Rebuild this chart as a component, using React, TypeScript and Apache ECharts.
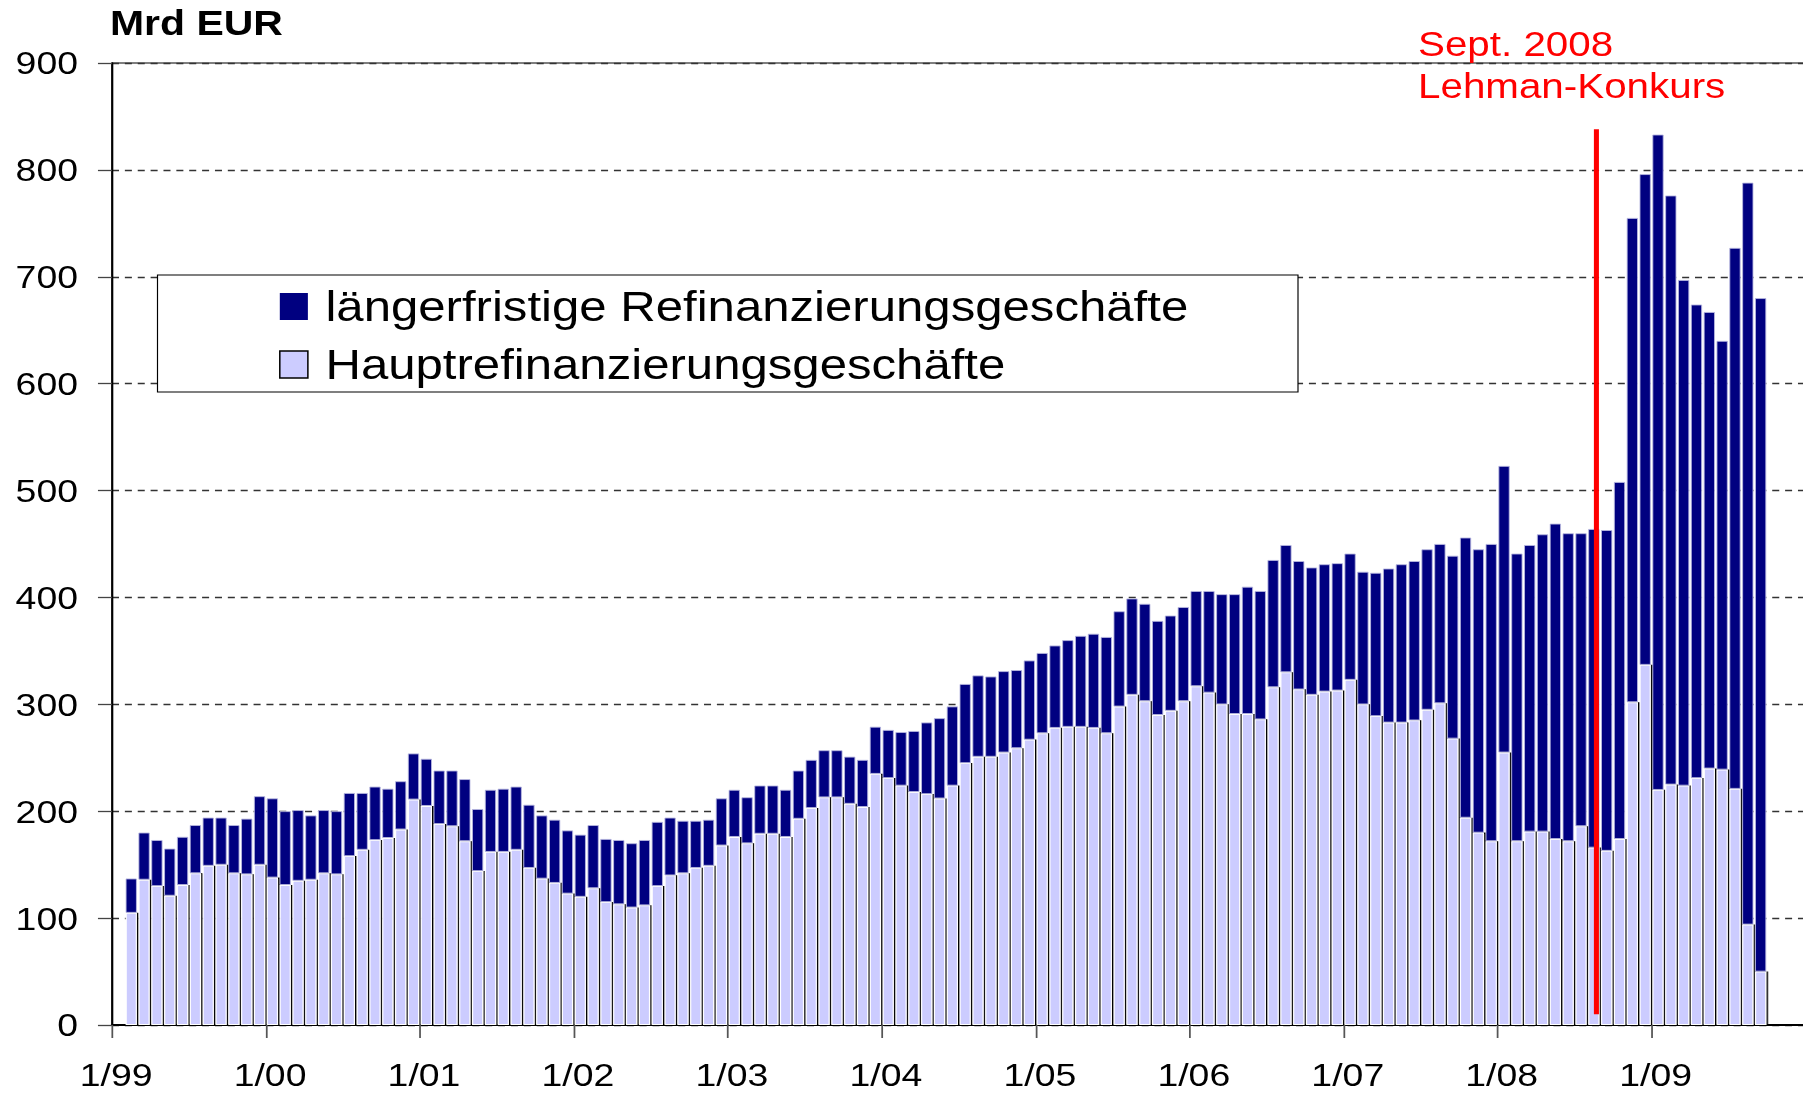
import React, { useEffect, useRef } from "react";
import * as echarts from "echarts";

// ---- data (Mrd EUR) ----
const YEAR_LABELS = ["1/99", "1/00", "1/01", "1/02", "1/03", "1/04", "1/05", "1/06", "1/07", "1/08", "1/09"];
const FIRST_YEAR = 1999;
const YEARS_ON_AXIS = 11;
const FIRST_SLOT = 1; // first bar sits in the second monthly slot

// total height of each bar (Hauptrefinanzierung + längerfristige)
const TOTAL = [
  137, 180, 173, 165, 176, 187, 194, 194, 187, 193, 214, 212,
  200, 201, 196, 201, 200, 217, 217, 223, 221, 228, 254, 249,
  238, 238, 230, 202, 220, 221, 223, 206, 196, 192, 182, 178,
  187, 174, 173, 170, 173, 190, 194, 191, 191, 192, 212, 220,
  213, 224, 224, 220, 238, 248, 257, 257, 251, 248, 279, 276,
  274, 275, 283, 287, 298, 319, 327, 326, 331, 332, 341, 348,
  355, 360, 364, 366, 363, 387, 399, 394, 378, 383, 391, 406,
  406, 403, 403, 410, 406, 435, 449, 434, 428, 431, 432, 441,
  424, 423, 427, 431, 434, 445, 450, 439, 456, 445, 450, 523,
  441, 449, 459, 469, 460, 460, 464, 463, 508, 755, 796, 833,
  776, 697, 674, 667, 640, 727, 788, 680,
];
// Hauptrefinanzierungsgeschäfte (light part)
const MRO = [
  105, 136, 130, 121, 131, 142, 149, 150, 142, 141, 150, 138,
  131, 135, 136, 142, 141, 158, 164, 173, 175, 183, 211, 205,
  188, 186, 172, 144, 162, 162, 164, 147, 137, 133, 123, 120,
  128, 115, 113, 110, 112, 130, 140, 142, 147, 149, 168, 176,
  170, 179, 179, 176, 193, 203, 213, 213, 207, 204, 235, 231,
  224, 218, 216, 212, 224, 245, 251, 251, 255, 259, 267, 273,
  278, 279, 279, 278, 273, 298, 309, 303, 290, 294, 303, 317,
  311, 300, 291, 291, 286, 316, 330, 314, 309, 312, 313, 323,
  300, 289, 283, 283, 285, 295, 301, 268, 194, 180, 172, 255,
  172, 181, 181, 174, 172, 186, 166, 163, 174, 302, 337, 220,
  225, 224, 231, 240, 239, 221, 94, 50,
];
// Lehman marker (position in monthly slots, vertical extent in Mrd EUR)
const LEHMAN_X = 115.7;
const LEHMAN_Y = [10, 838];

const NAME_LTRO = "längerfristige Refinanzierungsgeschäfte";
const NAME_MRO = "Hauptrefinanzierungsgeschäfte";

// ---- layout ----
const STRETCH = 1.17; // reference is horizontally stretched
const W = Math.round(1803 / STRETCH);
const H = 1093;
const FONT = '"Liberation Sans", Arial, Helvetica, sans-serif';

const SLOTS = YEARS_ON_AXIS * 12;
const MONTHS: string[] = [];
for (let i = 0; i < SLOTS; i++) {
  const y = FIRST_YEAR + Math.floor(i / 12);
  MONTHS.push(`${(i % 12) + 1}/${String(y % 100).padStart(2, "0")}`);
}
function place(values: number[]): (number | null)[] {
  const out: (number | null)[] = new Array(SLOTS).fill(null);
  values.forEach((v, i) => (out[FIRST_SLOT + i] = v));
  return out;
}
const LTRO = TOTAL.map((t, i) => t - MRO[i]);

export default function App() {
  const ref = useRef<HTMLDivElement>(null);
  useEffect(() => {
    document.body.style.margin = "0";
    document.body.style.overflow = "hidden";
    const chart = echarts.init(ref.current!, null, { renderer: "svg" });
    chart.setOption({
      animation: false,
      backgroundColor: "#ffffff",
      grid: {
        left: 112 / STRETCH,
        right: -2.2,
        top: 63,
        bottom: 68,
        outerBoundsMode: "none",
        containLabel: false,
        show: true,
        borderColor: "#000",
        borderWidth: 1.2,
        backgroundColor: "transparent",
      },
      xAxis: [
        {
          type: "category",
          data: MONTHS,
          boundaryGap: true,
          axisLine: { show: false },
          axisTick: { show: false },
          axisLabel: { show: false },
          splitLine: { show: false },
        },
        {
          type: "value",
          min: 0,
          max: SLOTS,
          interval: 12,
          position: "bottom",
          axisLine: { show: true, onZero: false, lineStyle: { color: "#000", width: 2 } },
          axisTick: { show: true, length: 13, lineStyle: { color: "#555", width: 1.5 } },
          axisLabel: {
            margin: 34,
            fontSize: 32,
            fontFamily: FONT,
            color: "#000",
            padding: [0, 0, 0, 7],
            showMaxLabel: false,
            formatter: (v: number) => YEAR_LABELS[Math.round(v / 12)] ?? "",
          },
          splitLine: { show: false },
        },
      ],
      yAxis: {
        type: "value",
        min: 0,
        max: 900,
        interval: 100,
        axisLine: { show: true, lineStyle: { color: "#000", width: 1.7 } },
        axisTick: { show: true, length: 12, lineStyle: { color: "#444", width: 1.3 } },
        axisLabel: { margin: 29, fontSize: 32, fontFamily: FONT, color: "#000" },
        splitLine: { show: true, lineStyle: { type: [6, 5], color: "#333", width: 1.3 } },
      },
      legend: {
        orient: "vertical",
        left: 238.5,
        top: 285.5,
        padding: 0,
        itemWidth: 24,
        itemHeight: 27,
        itemGap: 16,
        z: 6,
        selectedMode: false,
        textStyle: { fontSize: 42, fontFamily: FONT, color: "#000", padding: [0, 0, 0, 10] },
        data: [
          {
            name: NAME_LTRO,
            icon: "rect",
            itemStyle: { color: "#000080", borderWidth: 0, shadowColor: "transparent", shadowOffsetX: 0, shadowBlur: 0 },
          },
          {
            name: NAME_MRO,
            icon: "rect",
            itemStyle: { color: "#CCCCFF", borderColor: "#000", borderWidth: 1.3, shadowColor: "transparent", shadowOffsetX: 0, shadowBlur: 0 },
          },
        ],
      },
      graphic: [
        {
          type: "rect",
          z: 4,
          shape: { x: 157.5 / STRETCH, y: 275, width: (1298 - 157.5) / STRETCH, height: 117 },
          style: { fill: "#ffffff", stroke: "#000", lineWidth: 1 },
        },
        {
          type: "text",
          z: 6,
          x: 110 / STRETCH,
          y: 23,
          style: { text: "Mrd EUR", font: `bold 35px ${FONT}`, fill: "#000", verticalAlign: "middle" },
        },
        {
          type: "text",
          z: 6,
          x: 1418 / STRETCH,
          y: 44,
          style: { text: "Sept. 2008", font: `34.5px ${FONT}`, fill: "#ff0000", verticalAlign: "middle" },
        },
        {
          type: "text",
          z: 6,
          x: 1418 / STRETCH,
          y: 86,
          style: { text: "Lehman-Konkurs", font: `34.5px ${FONT}`, fill: "#ff0000", verticalAlign: "middle" },
        },
      ],
      series: [
        {
          name: NAME_MRO,
          type: "bar",
          stack: "total",
          xAxisIndex: 0,
          yAxisIndex: 0,
          barCategoryGap: "12%",
          data: place(MRO),
          itemStyle: {
            color: "#CCCCFF",
            borderColor: "#ffffff",
            borderWidth: 1,
            shadowColor: "#000",
            shadowOffsetX: 1.5,
            shadowOffsetY: 0,
            shadowBlur: 0,
          },
        },
        {
          name: NAME_LTRO,
          type: "bar",
          stack: "total",
          xAxisIndex: 0,
          yAxisIndex: 0,
          barCategoryGap: "12%",
          data: place(LTRO),
          itemStyle: { color: "#000080", borderColor: "#b8b8e0", borderWidth: 0.8 },
        },
        {
          name: "Lehman",
          type: "line",
          xAxisIndex: 1,
          yAxisIndex: 0,
          z: 10,
          symbol: "none",
          silent: true,
          data: [
            [LEHMAN_X, LEHMAN_Y[0]],
            [LEHMAN_X, LEHMAN_Y[1]],
          ],
          lineStyle: { color: "#ff0000", width: 4.3 },
        },
      ],
    });
    return () => chart.dispose();
  }, []);
  return (
    <div
      ref={ref}
      style={{ width: W, height: H, transform: `scaleX(${STRETCH})`, transformOrigin: "0 0" }}
    />
  );
}
